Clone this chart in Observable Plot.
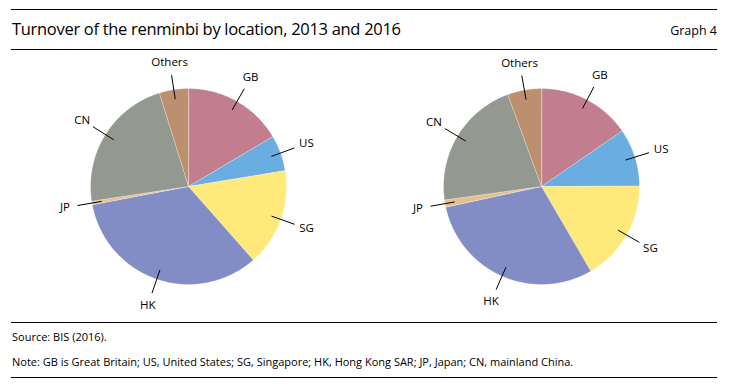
<!DOCTYPE html>
<html><head><meta charset="utf-8">
<script src="https://cdn.jsdelivr.net/npm/d3@7"></script>
<script src="https://cdn.jsdelivr.net/npm/@observablehq/plot@0.6"></script>
<style>
body{margin:0;background:#fff;font-family:"Open Sans",sans-serif;color:#000;}
#wrap{position:relative;width:732px;height:387px;overflow:hidden;}
.rule{position:absolute;left:11px;width:706px;height:0;border-top:1.5px solid #000;}
.txt{position:absolute;white-space:nowrap;line-height:1;}
#title{left:12px;top:21px;font-size:16.5px;letter-spacing:-0.3px;}
#gnum{right:15px;top:25px;font-size:12.5px;}
#source{left:12px;top:331px;font-size:11px;}
#note{left:12px;top:356px;font-size:11px;}
#chart{position:absolute;left:0;top:51px;}
</style></head>
<body>
<div id="wrap">
  <div class="rule" style="top:9px"></div>
  <div class="txt" id="title">Turnover of the renminbi by location, 2013 and 2016</div>
  <div class="txt" id="gnum">Graph 4</div>
  <div class="rule" style="top:49px"></div>
  <div id="chart"></div>
  <div class="rule" style="top:322px"></div>
  <div class="txt" id="source">Source: BIS (2016).</div>
  <div class="txt" id="note">Note: GB is Great Britain; US, United States; SG, Singapore; HK, Hong Kong SAR; JP, Japan; CN, mainland China.</div>
  <div class="rule" style="top:377px"></div>
</div>
<script>
const years = ["2013", "2016"];
const locations = ["GB", "US", "SG", "HK", "JP", "CN", "Others"];
const share2013 = [16.5, 5.9, 16.1, 33.5, 0.6, 22.6, 4.8];
const share2016 = [15.4, 9.5, 16.7, 30.0, 1.2, 21.6, 5.6];
const colors = ["#c27e8e", "#6aade0", "#ffe97a", "#828dc5", "#e5c08e", "#939890", "#bc906e"];

const shares = {"2013": share2013, "2016": share2016};
const pie = d3.pie().sort(null).value(d => d);

const slices = [];   // polygon vertices
const labels = [];   // label + leader data
for (const year of years) {
  const arcs = pie(shares[year]);
  arcs.forEach((a, i) => {
    const key = locations[i];
    const id = year + "-" + key;
    slices.push({year, key, id, x: 0, y: 0});
    const n = Math.max(2, Math.ceil((a.endAngle - a.startAngle) / 0.01));
    for (let k = 0; k <= n; k++) {
      const t = a.startAngle + (a.endAngle - a.startAngle) * k / n;
      slices.push({year, key, id, x: Math.sin(t), y: Math.cos(t)});
    }
    const m = (a.startAngle + a.endAngle) / 2;
    labels.push({
      year, key,
      x1: 0.9 * Math.sin(m), y1: 0.9 * Math.cos(m),
      x2: 1.15 * Math.sin(m), y2: 1.15 * Math.cos(m),
      lx: 1.28 * Math.sin(m), ly: 1.28 * Math.cos(m)
    });
  });
}

const chart = Plot.plot({
  width: 732,
  height: 271,
  marginLeft: 28,
  marginRight: 31,
  marginTop: 0,
  marginBottom: 0,
  style: {fontFamily: "Open Sans, sans-serif", fontSize: "11.5px", background: "white", color: "#000"},
  fx: {domain: years, paddingInner: 0.0935, paddingOuter: 0, axis: null},
  x: {domain: [-1.633, 1.633], axis: null},
  y: {domain: [-1.388, 1.378], axis: null},
  color: {domain: locations, range: colors},
  marks: [
    Plot.line(slices, {fx: "year", x: "x", y: "y", z: "id", fill: "key", stroke: "white", strokeWidth: 0.5, strokeOpacity: 0.6, curve: "linear-closed"}),
    Plot.link(labels, {fx: "year", x1: "x1", y1: "y1", x2: "x2", y2: "y2", stroke: "#000", strokeWidth: 1}),
    Plot.text(labels, {fx: "year", x: "lx", y: "ly", text: "key", fill: "#000", textAnchor: "middle", fontSize: 11.5})
  ]
});
document.getElementById("chart").appendChild(chart);
</script>
</body></html>
